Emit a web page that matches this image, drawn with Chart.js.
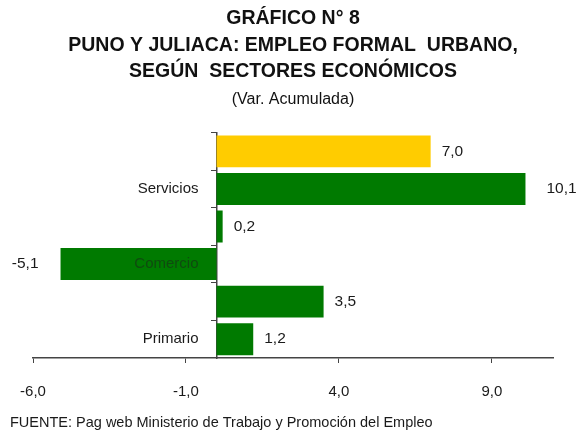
<!DOCTYPE html>
<html>
<head>
<meta charset="utf-8">
<script src="https://cdn.jsdelivr.net/npm/chart.js@4"></script>
<style>
  html, body { margin: 0; padding: 0; background: #fff; }
  #wrap { width: 580px; height: 439px; position: relative; }
</style>
</head>
<body>
<div id="wrap"><canvas id="chart"></canvas></div>
<script>
const categories = ["", "Servicios", "", "Comercio", "", "Primario"];
const values = [7.0, 10.1, 0.2, -5.1, 3.5, 1.2];
const xTicks = [-6, -1, 4, 9];
const titleLines = ["GRÁFICO N° 8", "PUNO Y JULIACA: EMPLEO FORMAL  URBANO,", "SEGÚN  SECTORES ECONÓMICOS"];
const subtitleText = "(Var. Acumulada)";
const sourceText = "FUENTE: Pag web Ministerio de Trabajo y Promoción del Empleo";

const FONT = "'Liberation Sans Narrow', 'Arial Narrow', 'Liberation Sans', Arial, sans-serif";
const GREEN = "#007a00";
const YELLOW = "#ffcc00";

// comma decimal like the original
function fmt(v) {
  return v.toFixed(1).replace(".", ",");
}

// value labels next to each bar (gap in px from the bar end, as placed in the original)
const labelGap = [11, 21, 11, 22, 11, 11];
const barLabels = {
  id: "barLabels",
  afterDatasetsDraw(chart) {
    const ctx = chart.ctx;
    const meta = chart.getDatasetMeta(0);
    ctx.save();
    ctx.font = "15.5px " + FONT;
    ctx.fillStyle = "#1a1a1a";
    ctx.textBaseline = "middle";
    meta.data.forEach((bar, i) => {
      const v = values[i];
      if (v < 0) {
        ctx.textAlign = "right";
        ctx.fillText(fmt(v), bar.x - labelGap[i], bar.y);
      } else {
        ctx.textAlign = "left";
        ctx.fillText(fmt(v), bar.x + labelGap[i], bar.y);
      }
    });
    ctx.restore();
  }
};

// source note at the bottom left
const sourceNote = {
  id: "sourceNote",
  afterDraw(chart) {
    const ctx = chart.ctx;
    ctx.save();
    ctx.font = "14.5px " + FONT;
    ctx.fillStyle = "#1a1a1a";
    ctx.textAlign = "left";
    ctx.textBaseline = "middle";
    ctx.fillText(sourceText, 10, 423);
    ctx.restore();
  }
};

new Chart(document.getElementById("chart"), {
  type: "bar",
  data: {
    labels: categories,
    datasets: [{
      data: values,
      backgroundColor: [YELLOW, GREEN, GREEN, GREEN, GREEN, GREEN],
      borderWidth: 0,
      barPercentage: 0.85,
      categoryPercentage: 1.0
    }]
  },
  options: {
    indexAxis: "y",
    responsive: true,
    maintainAspectRatio: false,
    animation: false,
    layout: { padding: { left: 33, right: 27, top: 0, bottom: 18 } },
    plugins: {
      legend: { display: false },
      tooltip: { enabled: false },
      title: {
        display: true,
        text: titleLines,
        color: "#111",
        font: { family: FONT, size: 19.5, weight: "bold", lineHeight: 1.34 },
        padding: { top: 6, bottom: 0 }
      },
      subtitle: {
        display: true,
        text: subtitleText,
        color: "#111",
        font: { family: FONT, size: 16, weight: "normal", lineHeight: 1.2 },
        padding: { top: 6, bottom: 23 }
      }
    },
    scales: {
      x: {
        type: "linear",
        position: "bottom",
        min: -6,
        max: 11,
        afterBuildTicks: (scale) => {
          scale.ticks = xTicks.map(v => ({ value: v }));
        },
        grid: {
          drawOnChartArea: false,
          drawTicks: true,
          tickLength: 5,
          color: "#444"
        },
        border: { display: true, color: "#444", width: 1.5 },
        ticks: {
          padding: 20,
          color: "#1a1a1a",
          font: { family: FONT, size: 15 },
          callback: (v) => fmt(v)
        }
      },
      y: {
        position: { x: 0 },
        offset: true,
        grid: {
          offset: true,
          drawOnChartArea: false,
          drawTicks: true,
          tickLength: 5,
          color: "#444"
        },
        border: { display: true, color: "#444", width: 1.5 },
        ticks: {
          z: 1,
          autoSkip: false,
          font: { family: FONT, size: 15 },
          color: (c) => c.index === 3 ? "#0f4a0f" : "#1a1a1a",
          // trailing spaces keep the label off the axis line
          callback: (v, i) => categories[i] ? categories[i] + "\u2003\u2009" : ""
        }
      }
    }
  },
  plugins: [barLabels, sourceNote]
});
</script>
</body>
</html>
